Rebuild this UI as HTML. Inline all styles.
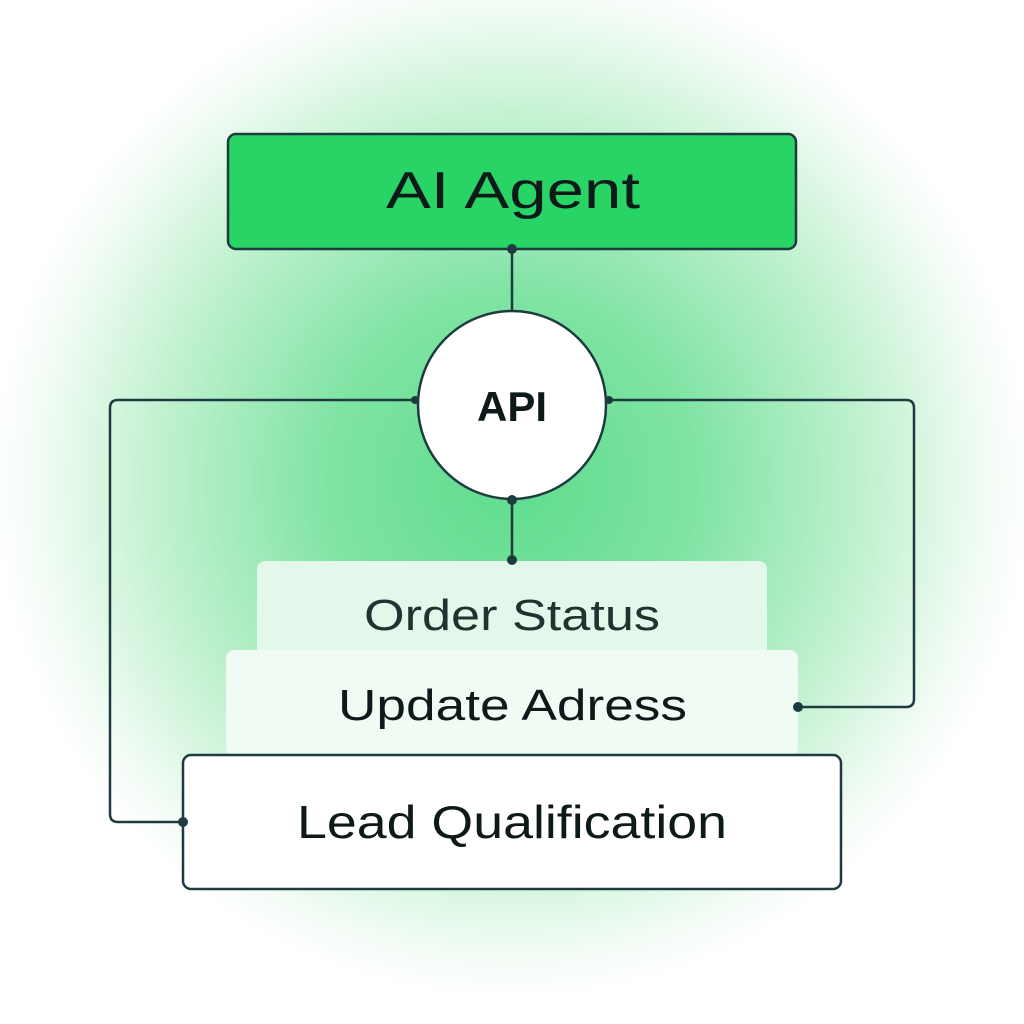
<!DOCTYPE html>
<html><head><meta charset="utf-8"><style>
html,body{margin:0;padding:0;width:1024px;height:1024px;overflow:hidden;background:#fff}
</style></head><body>
<svg width="1024" height="1024" viewBox="0 0 1024 1024" xmlns="http://www.w3.org/2000/svg">
<defs>
<radialGradient id="bg" cx="512" cy="480" r="520" gradientUnits="userSpaceOnUse">
<stop offset="0" stop-color="#5fdc8e"/>
<stop offset="0.35" stop-color="#7fe3a3"/>
<stop offset="0.7" stop-color="#c4f2d2"/>
<stop offset="0.92" stop-color="#f4fcf6"/>
<stop offset="1" stop-color="#ffffff"/>
</radialGradient>
</defs>
<rect width="1024" height="1024" fill="url(#bg)"/>
<g fill="none" stroke="#1d3b40" stroke-width="2.5">
<path d="M415 400 H118 Q110 400 110 408 V814 Q110 822 118 822 H183"/>
<path d="M609 400 H906 Q914 400 914 408 V699 Q914 707 906 707 H798"/>
<path d="M512 249 V311"/>
<path d="M512 499 V560"/>
</g>
<rect x="228" y="134" width="568" height="115" rx="8" fill="#29d466" stroke="#1d3b40" stroke-width="2.5"/>
<text x="386" y="208" textLength="254" lengthAdjust="spacingAndGlyphs" font-family="Liberation Sans, sans-serif" font-size="52" fill="#0e1a1a">AI Agent</text>
<circle cx="512" cy="405" r="94" fill="#fff" stroke="#1d3b40" stroke-width="2.5"/>
<text x="512" y="421" text-anchor="middle" font-family="Liberation Sans, sans-serif" font-weight="bold" font-size="42" fill="#0e1a1a">API</text>
<rect x="257" y="561" width="510" height="104" rx="8" fill="#e3f8ea"/>
<text x="364" y="630" textLength="296" lengthAdjust="spacingAndGlyphs" font-family="Liberation Sans, sans-serif" font-size="44" fill="#1f3330">Order Status</text>
<rect x="226" y="650" width="572" height="105" rx="8" fill="#f0fbf3"/>
<text x="338" y="720" textLength="349" lengthAdjust="spacingAndGlyphs" font-family="Liberation Sans, sans-serif" font-size="44" fill="#0e1a1a">Update Adress</text>
<rect x="183" y="755" width="658" height="134" rx="8" fill="#fff" stroke="#1d3b40" stroke-width="2.5"/>
<text x="297" y="838" textLength="430" lengthAdjust="spacingAndGlyphs" font-family="Liberation Sans, sans-serif" font-size="46" fill="#0e1a1a">Lead Qualification</text>
<g fill="#1d3b40">
<circle cx="512" cy="249" r="5"/>
<circle cx="415" cy="400" r="4"/>
<circle cx="609" cy="400" r="4"/>
<circle cx="512" cy="500" r="5"/>
<circle cx="512" cy="560" r="5"/>
<circle cx="798" cy="707" r="5"/>
<circle cx="183" cy="822" r="5"/>
</g>
</svg>
</body></html>
